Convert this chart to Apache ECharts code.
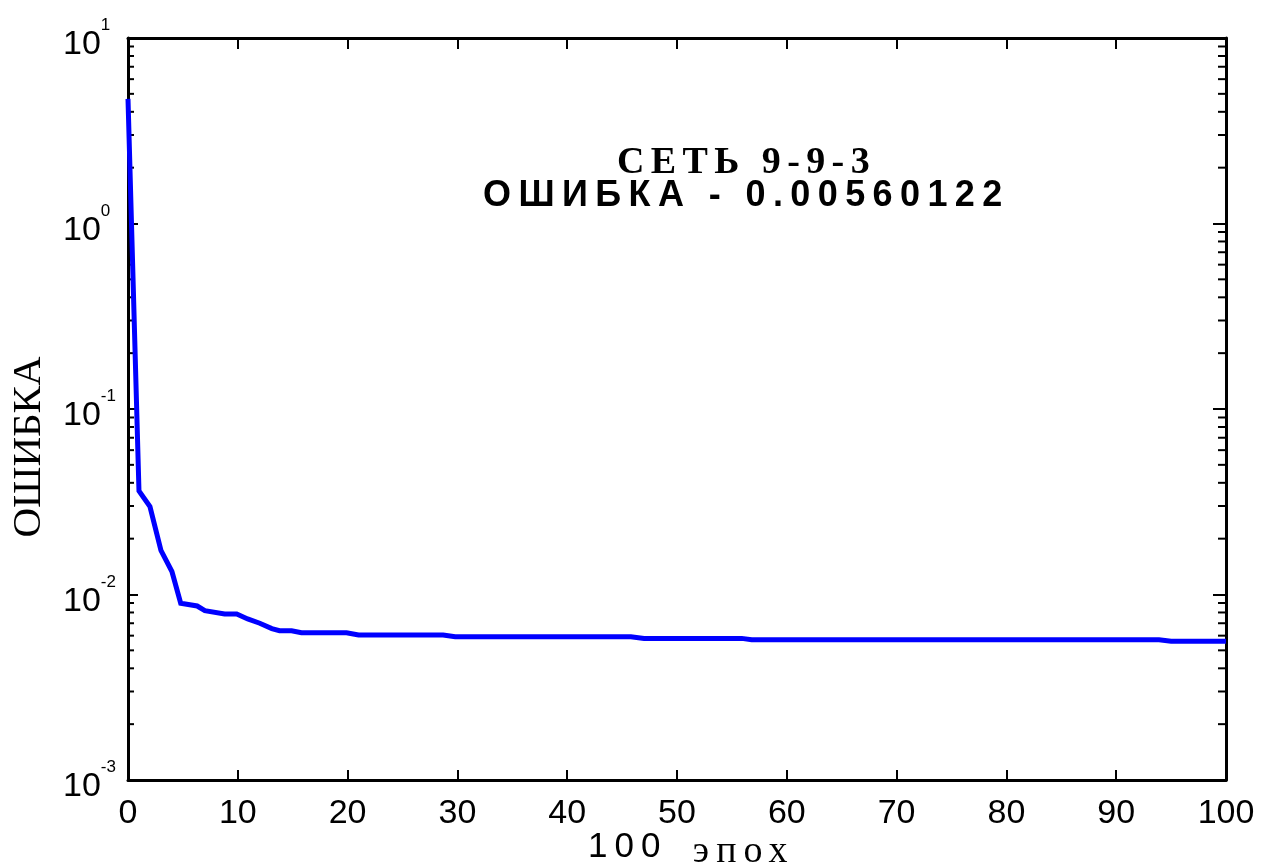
<!DOCTYPE html>
<html>
<head>
<meta charset="utf-8">
<script src="https://cdn.jsdelivr.net/npm/echarts@6/dist/echarts.min.js"></script>
<style>
  html, body { margin: 0; padding: 0; background: #ffffff; }
  #chart { width: 1273px; height: 868px; }
</style>
</head>
<body>
<div id="chart"></div>
<script>
// Training curve: network error per epoch (x in units of 100 epochs)
const epochs = [0, 1, 2, 3, 4, 4.8, 6.3, 7, 8.8, 9.9, 10.9, 12, 13.1, 13.8, 14.9, 15.8,
                19.9, 21, 28.7, 29.8, 45.8, 47, 55.9, 56.8, 93.9, 95, 100];
const errors = [4.7, 0.0362, 0.0298, 0.0173, 0.0133, 0.00897, 0.00867, 0.00818, 0.00785, 0.00785,
                0.00738, 0.0070, 0.00655, 0.00638, 0.00638, 0.00622, 0.00622, 0.00605, 0.00605,
                0.00592, 0.00592, 0.00580, 0.00580, 0.00570, 0.00570, 0.0056012, 0.0056012];

const xRange = [0, 100];
const xStep = 10;
const yRange = [0.001, 10];
const yDecades = [-3, -2, -1, 0];          // decades that get 2..9 minor ticks
const minorMultipliers = [2, 3, 4, 5, 6, 7, 8, 9];

const titleLine1 = 'СЕТЬ 9-9-3';
const titleLine2 = 'ОШИБКА - 0.00560122';
const yName = 'ОШИБКА';
const xNameNumber = '100';
const xNameWord = 'эпох';

// Spaced-out lettering for the annotation texts (canvas letterSpacing keyed by font)
const letterSpacingRules = [
  { size: 38, bold: true,  serif: true,  px: 6.4 },
  { size: 36, bold: true,  serif: false, px: 7.4 },
  { size: 35, bold: false, serif: false, px: 7 },
  { size: 38, bold: false, serif: true,  px: 7 }
];
(function () {
  const proto = CanvasRenderingContext2D.prototype;
  const origFill = proto.fillText;
  proto.fillText = function (text, x, y, maxWidth) {
    const f = this.font || '';
    const m = f.match(/(\d+(?:\.\d+)?)px/);
    const size = m ? parseFloat(m[1]) : 0;
    const bold = /bold|[6-9]00/.test(f);
    const serif = /Serif/.test(f);
    let px = 0;
    for (const r of letterSpacingRules) {
      if (r.size === size && r.bold === bold && r.serif === serif) { px = r.px; break; }
    }
    if ('letterSpacing' in this) this.letterSpacing = px + 'px';
    return maxWidth === undefined ? origFill.call(this, text, x, y) : origFill.call(this, text, x, y, maxWidth);
  };
})();

const minorValues = [];
yDecades.forEach(d => minorMultipliers.forEach(k => minorValues.push([xRange[0], k * Math.pow(10, d)])));

const SANS = '"Liberation Sans", Arial, sans-serif';
const SERIF = '"Liberation Serif", "Times New Roman", serif';

const chart = echarts.init(document.getElementById('chart'), null, { renderer: 'canvas' });

const axisLine = { show: true, onZero: false, lineStyle: { color: '#000', width: 3 } };

chart.setOption({
  animation: false,
  backgroundColor: '#ffffff',
  grid: { left: 128, right: 47, top: 38, bottom: 88, containLabel: false, outerBoundsMode: 'none' },
  xAxis: [
    {
      type: 'value', position: 'bottom', min: xRange[0], max: xRange[1], interval: xStep,
      axisLine: axisLine,
      axisTick: { show: true, inside: true, length: 10, lineStyle: { color: '#000', width: 2 } },
      splitLine: { show: false },
      axisLabel: { color: '#000', fontFamily: SANS, fontSize: 34, margin: 17 },
      name: '{a|' + xNameNumber + '}{b|' + xNameWord + '}',
      nameLocation: 'middle',
      nameGap: 53,
      nameMoveOverlap: false,
      nameTextStyle: {
        rich: {
          a: { fontFamily: SANS, fontSize: 35, lineHeight: 35, color: '#000',
               verticalAlign: 'bottom', padding: [0, 50, 6, 25] },
          b: { fontFamily: SERIF, fontSize: 38, lineHeight: 38, color: '#000',
               verticalAlign: 'bottom' }
        }
      }
    },
    {
      type: 'value', position: 'top', min: xRange[0], max: xRange[1], interval: xStep,
      axisLine: axisLine,
      axisTick: { show: true, inside: true, length: 11, lineStyle: { color: '#000', width: 2 } },
      splitLine: { show: false },
      axisLabel: { show: false }
    }
  ],
  yAxis: [
    {
      type: 'log', logBase: 10, position: 'left', min: yRange[0], max: yRange[1],
      axisLine: axisLine,
      axisTick: { show: true, inside: true, length: 10, lineStyle: { color: '#000', width: 2 } },
      splitLine: { show: false },
      axisLabel: {
        align: 'left',
        margin: 65,
        padding: [22, 0, 0, 0],
        formatter: function (v) {
          const e = Math.round(Math.log10(v));
          return '{m|10}{e|' + e + '}';
        },
        rich: {
          m: { fontFamily: SANS, fontSize: 34, lineHeight: 34, color: '#000',
               verticalAlign: 'bottom', padding: [0, 0, 4, 0] },
          e: { fontFamily: SANS, fontSize: 17, lineHeight: 17, color: '#000',
               verticalAlign: 'bottom', padding: [0, 0, 32, 0] }
        }
      }
    },
    {
      type: 'log', logBase: 10, position: 'right', min: yRange[0], max: yRange[1],
      axisLine: axisLine,
      axisTick: { show: true, inside: true, length: 13, lineStyle: { color: '#000', width: 2 } },
      splitLine: { show: false },
      axisLabel: { show: false }
    }
  ],
  graphic: [
    {
      type: 'text', x: 617, y: 163, silent: true,
      style: { text: titleLine1, font: 'bold 38px ' + SERIF, fill: '#000',
               textAlign: 'left', textVerticalAlign: 'middle' }
    },
    {
      type: 'text', x: 483, y: 196, silent: true,
      style: { text: titleLine2, font: 'bold 36px ' + SANS, fill: '#000',
               textAlign: 'left', textVerticalAlign: 'middle' }
    },
    {
      type: 'text', x: 29, y: 447, rotation: Math.PI / 2, silent: true,
      style: { text: yName, font: '41px ' + SERIF, fill: '#000',
               textAlign: 'center', textVerticalAlign: 'middle' }
    }
  ],
  series: [
    {
      // minor log ticks (2..9 per decade) on both vertical frame edges
      type: 'custom',
      silent: true,
      xAxisIndex: 0, yAxisIndex: 0,
      encode: { x: 0, y: 1 },
      data: minorValues,
      z: 5,
      renderItem: function (params, api) {
        const v = api.value(1);
        const l = api.coord([xRange[0], v]);
        const r = api.coord([xRange[1], v]);
        return {
          type: 'group',
          children: [
            { type: 'line', shape: { x1: l[0], y1: l[1], x2: l[0] + 6, y2: l[1] },
              style: { stroke: '#000', lineWidth: 2 } },
            { type: 'line', shape: { x1: r[0] - 8, y1: r[1], x2: r[0], y2: r[1] },
              style: { stroke: '#000', lineWidth: 2 } }
          ]
        };
      }
    },
    {
      type: 'line',
      xAxisIndex: 0, yAxisIndex: 0,
      data: epochs.map((e, i) => [e, errors[i]]),
      showSymbol: false,
      clip: false,
      z: 10,
      lineStyle: { color: '#0000ff', width: 5, join: 'miter' }
    }
  ]
});
</script>
</body>
</html>
